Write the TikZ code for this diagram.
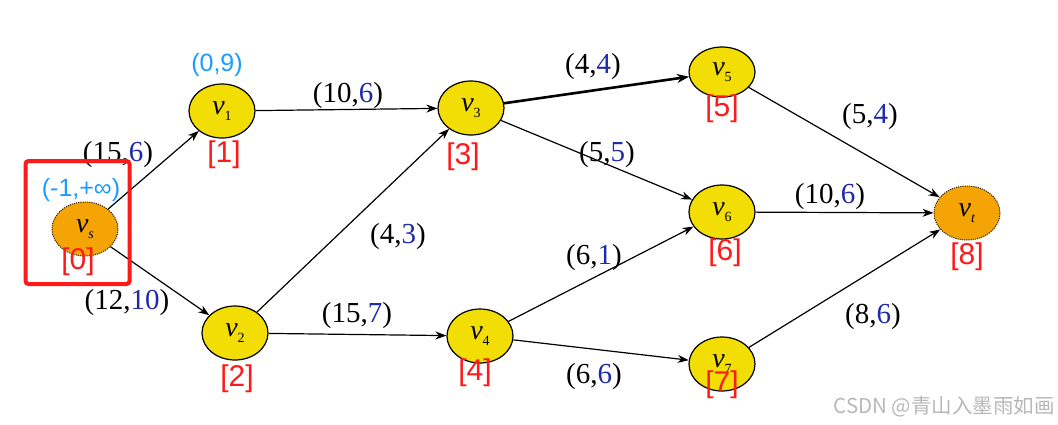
\documentclass[tikz,border=0pt]{standalone}
\usepackage{fontspec}
\setmainfont{Liberation Serif}
\newfontfamily\lsans{Liberation Sans}
\newfontfamily\cjk{Noto Sans CJK SC}
\usetikzlibrary{shapes.geometric,arrows.meta}
\definecolor{fyel}{HTML}{F2DD05}
\definecolor{forg}{HTML}{F5A405}
\definecolor{fcyan}{HTML}{1E9BFF}
\definecolor{fred}{HTML}{FF1A1A}
\definecolor{fblue}{HTML}{1F2AA8}
\definecolor{fgray}{HTML}{B8B8B8}
\newcommand\elab[2]{(#1,\textcolor{fblue}{#2})}
\newcommand\vname[1]{\textit{v}\raisebox{-6pt}{\fontsize{14}{14}\selectfont #1}}
\tikzset{
  vnode/.style={ellipse,draw=black,line width=1.2pt,fill=fyel,minimum width=66pt,minimum height=54pt,inner sep=0pt,font=\fontsize{28}{28}\selectfont},
  stnode/.style={vnode,fill=forg,draw=black!70!brown,densely dotted,line width=1pt},
  edge/.style={draw=black,line width=1.2pt,-{Stealth[length=11pt,width=8pt]}},
  thickedge/.style={edge,line width=2.6pt,-{Stealth[length=12pt,width=9pt]}},
  elabel/.style={font=\fontsize{29}{29}\selectfont,inner sep=0pt},
  idx/.style={text=fred,font=\lsans\fontsize{30}{30}\selectfont,inner sep=0pt},
  cyanlab/.style={text=fcyan,font=\lsans\fontsize{25}{25}\selectfont,inner sep=0pt}
}
\begin{document}
\begin{tikzpicture}[x=1pt,y=-1pt]
\useasboundingbox[fill=white] (0,0) rectangle (1058,424);
% nodes
\node[stnode] (vs) at (85,229) {\vname{\textit{s}}};
\node[vnode] (v1) at (222,111) {\vname{1}};
\node[vnode] (v2) at (235,333) {\vname{2}};
\node[vnode] (v3) at (471,108) {\vname{3}};
\node[vnode] (v4) at (480,336) {\vname{4}};
\node[vnode,minimum height=50pt] (v5) at (722,72) {\vname{5}};
\node[vnode] (v6) at (722,212) {\vname{6}};
\node[vnode] (v7) at (722,364) {\vname{7}};
\node[stnode] (vt) at (967,213) {\vname{\textit{t}}};
% edges
\draw[edge] (vs) -- (v1);
\draw[edge] (vs) -- (v2);
\draw[edge] (v1) -- (v3);
\draw[edge] (v2) -- (v3);
\draw[edge] (v2) -- (v4);
\draw[thickedge] (v3) -- (v5);
\draw[edge] (v3) -- (v6);
\draw[edge] (v4) -- (v6);
\draw[edge] (v4) -- (v7);
\draw[edge] (v5) -- (vt);
\draw[edge] (v6) -- (vt);
\draw[edge] (v7) -- (vt);
% edge labels
\node[elabel] (l1) at (118,155) {\elab{15}{6}};
\node[elabel] (l2) at (127,303) {\elab{12}{10}};
\node[elabel] (l3) at (348,96) {\elab{10}{6}};
\node[elabel] (l4) at (398,237) {\elab{4}{3}};
\node[elabel] (l5) at (357,316) {\elab{15}{7}};
\node[elabel] (l6) at (593,67) {\elab{4}{4}};
\node[elabel] (l7) at (607,155) {\elab{5}{5}};
\node[elabel] (l8) at (594,258) {\elab{6}{1}};
\node[elabel] (l9) at (594,377) {\elab{6}{6}};
\node[elabel] (l10) at (830,197) {\elab{10}{6}};
\node[elabel] (l11) at (873,317) {\elab{8}{6}};
\node[elabel] (l12) at (870,117) {\elab{5}{4}};
% cyan labels
\node[cyanlab] (c1) at (217,65) {(0,9)};
\node[cyanlab] (c0) at (81,190) {(-1,+∞)};
% index labels
\node[idx] (i0) at (78,262) {[0]};
\node[idx] (i1) at (224,155) {[1]};
\node[idx] (i2) at (237,379) {[2]};
\node[idx] (i3) at (463,157) {[3]};
\node[idx] (i4) at (475,373) {[4]};
\node[idx] (i5) at (722,109) {[5]};
\node[idx] (i6) at (725,253) {[6]};
\node[idx] (i7) at (722,385) {[7]};
\node[idx] (i8) at (967,257) {[8]};
% red box
\node[draw=fred,line width=4pt,rounded corners=3pt,minimum width=104pt,minimum height=123pt,inner sep=0pt] (box) at (77.5,222.5) {};
% watermark
\node[text=fgray,font=\cjk\fontsize{20.5}{20.5}\selectfont,anchor=east,inner sep=0pt] (wm) at (1055,407) {CSDN @青山入墨雨如画};
\end{tikzpicture}
\end{document}
